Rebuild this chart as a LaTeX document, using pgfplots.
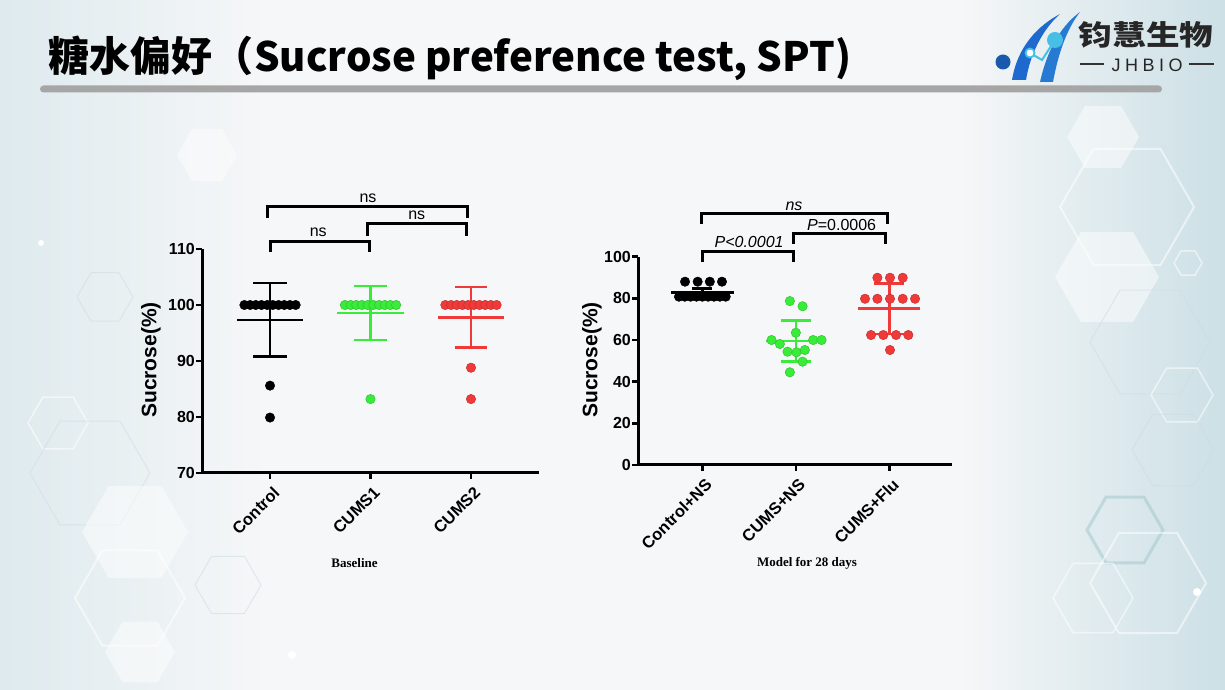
\documentclass[border=0pt]{standalone}
\usepackage{pgfplots}
\pgfplotsset{compat=1.18}
\usepackage{fontspec}
\setmainfont{Liberation Sans}
\newfontfamily\arialf{Liberation Sans}
\newfontfamily\arialls{Liberation Sans}[LetterSpace=25]
\newfontfamily\timesf{Liberation Serif}
\newfontfamily\cjk{Noto Sans CJK SC}
\definecolor{cgreen}{RGB}{58,236,58}
\definecolor{cred}{RGB}{240,58,58}
\definecolor{bgL}{RGB}{222,234,238}
\definecolor{bgM}{RGB}{246,247,248}
\definecolor{bgR}{RGB}{204,224,230}
\definecolor{hexw}{RGB}{252,253,253}
\definecolor{hexg}{RGB}{205,220,225}
\definecolor{logob}{RGB}{30,105,205}
\definecolor{logoc}{RGB}{70,190,230}
\pgfdeclarehorizontalshading{bgshade}{100bp}{color(0bp)=(bgL); color(25bp)=(bgL); color(36bp)=(bgM); color(64bp)=(bgM); color(75bp)=(bgR); color(100bp)=(bgR)}
\newcommand\hexa[4]{\draw[#4] (#1,#2) ++(0:#3) -- ++(120:#3) -- ++(180:#3) -- ++(240:#3) -- ++(300:#3) -- ++(0:#3) -- cycle;}
\newcommand\tfont{\arialf\bfseries\fontsize{16}{16}\selectfont}
\newcommand\xfont{\arialf\bfseries\fontsize{16.5}{16.5}\selectfont}
\pgfplotsset{
  sptaxis/.style={
    scale only axis, clip=false,
    axis x line=bottom, axis y line=left,
    axis line style={-, line width=3pt, black},
    tick style={line width=2.5pt, black},
    major tick length=6pt, tick align=outside,
    /pgf/number format/assume math mode=true,
    yticklabel style={font=\tfont, inner sep=1pt},
    xticklabel style={font=\xfont, rotate=45, anchor=north east, inner sep=0pt, yshift=-6pt, xshift=-3pt},
    xtick={0,1,2},
  },
  dots/.style={only marks, mark=*, mark size=4.7pt, mark options={fill=#1, draw=#1!82!black, line width=0.5pt}},
  bar/.style={#1, line width=2.6pt},
  brk/.style={black, line width=3pt},
}
\begin{document}
\begin{tikzpicture}[x=1pt,y=1pt]
\useasboundingbox (0,0) rectangle (1225,690);
\shade[shading=bgshade] (0,0) rectangle (1225,690);
\begin{scope}[shift={(0,690)}, yscale=-1]
% background hexagons
\begin{scope}[opacity=0.55]
\hexa{1103}{137}{36}{draw=none, fill=hexw}
\hexa{1127}{207}{67}{draw=white, line width=2pt}
\hexa{1107}{277}{52}{draw=none, fill=hexw}
\hexa{1150}{342}{60}{draw=hexg, line width=1pt}
\hexa{1188}{263}{14}{draw=white, line width=1.5pt}
\hexa{1182}{395}{31}{draw=white, line width=1.5pt}
\hexa{1173}{450}{41}{draw=hexg, line width=1pt}
\hexa{1125}{530}{38}{draw=hexg!80!teal, line width=3pt}
\hexa{1148}{583}{58}{draw=white, line width=2pt}
\hexa{1093}{598}{40}{draw=white, line width=1.5pt}
\hexa{207}{155}{30}{draw=none, fill=hexw}
\hexa{105}{297}{28}{draw=hexg, line width=1pt}
\hexa{58}{423}{30}{draw=white, line width=1.5pt}
\hexa{90}{473}{60}{draw=hexg, line width=1pt}
\hexa{135}{532}{53}{draw=none, fill=hexw}
\hexa{130}{598}{55}{draw=white, line width=2pt}
\hexa{228}{585}{33}{draw=hexg, line width=1pt}
\hexa{140}{652}{35}{draw=none, fill=hexw}
\end{scope}
\fill[white] (1197,592) circle (4);
\fill[white] (292,655) circle (4);
\fill[white] (41,243) circle (3);
% title
\node[anchor=base west, inner sep=0] at (48,72) {\cjk\bfseries\fontsize{41}{41}\selectfont 糖水偏好（};
\node[anchor=base west, inner sep=0] at (254,72) {\resizebox{597pt}{34pt}{\cjk\bfseries Sucrose preference test, SPT)}};
\fill[black!35, rounded corners=3.5pt] (40,85.5) rectangle (1162,92.5);
% logo
\fill[logob] (1060,14) .. controls (1030,30) and (1016,55) .. (1012,80) -- (1026,80) .. controls (1030,55) and (1042,30) .. (1060,14) -- cycle;
\fill[logob!80!logoc] (1080,12) .. controls (1058,28) and (1046,55) .. (1040,82) -- (1053,82) .. controls (1058,55) and (1066,30) .. (1080,12) -- cycle;
\fill[logob!85!black] (1003,62) circle (7.5);
\draw[logoc, line width=2pt] (1030,53) -- (1042,60) -- (1055,40);
\draw[logoc, line width=1.8pt, fill=white] (1030,53) circle (4.5);
\fill[logoc] (1055,40) circle (8);
\node[inner sep=0] at (1146,35) {\scalebox{1.2}[1]{\cjk\bfseries\fontsize{28}{28}\selectfont\color{black!85}钧慧生物}};
\node[inner sep=0] at (1147,65) {\arialls\fontsize{18}{18}\selectfont\color{black!85}JHBIO};
\draw[black!80, line width=1.5pt] (1080,64) -- (1104,64) (1189,64) -- (1214,64);
% axis labels and captions
\node[rotate=90, inner sep=0] at (151,360) {\arialf\bfseries\fontsize{21}{21}\selectfont Sucrose(\%)};
\node[rotate=90, inner sep=0] at (592,360) {\arialf\bfseries\fontsize{21}{21}\selectfont Sucrose(\%)};
\node[inner sep=0] at (354.5,563) {\timesf\bfseries\fontsize{13}{13}\selectfont Baseline};
\node[inner sep=0] at (807,563) {\timesf\bfseries\fontsize{13}{13}\selectfont Model for 28 days};
\end{scope}

% ---------------- left axis: Baseline ----------------
\begin{axis}[sptaxis,
  at={(202pt,217pt)}, anchor=south west,
  width=337pt, height=224pt,
  xmin=-0.677, xmax=2.677, ymin=70, ymax=110,
  ytick={70,80,90,100,110},
  xticklabels={Control,CUMS1,CUMS2},
]
\addplot[dots=black] coordinates {(-0.255,100)(-0.198,100)(-0.142,100)(-0.085,100)(-0.028,100)(0.028,100)(0.085,100)(0.142,100)(0.198,100)(0.255,100)(0,85.6)(0,79.9)};
\addplot[dots=cgreen] coordinates {(0.745,100)(0.802,100)(0.858,100)(0.915,100)(0.972,100)(1.028,100)(1.085,100)(1.142,100)(1.198,100)(1.255,100)(1,83.2)};
\addplot[dots=cred] coordinates {(1.745,100)(1.802,100)(1.858,100)(1.915,100)(1.972,100)(2.028,100)(2.085,100)(2.142,100)(2.198,100)(2.255,100)(2,88.8)(2,83.2)};
% mean and SD
\addplot[bar=black] coordinates {(-0.33,97.3)(0.33,97.3)};
\addplot[bar=black] coordinates {(0,90.8)(0,103.9)};
\addplot[bar=black] coordinates {(-0.166,103.9)(0.166,103.9)};
\addplot[bar=black] coordinates {(-0.166,90.8)(0.166,90.8)};
\addplot[bar=cgreen] coordinates {(0.67,98.6)(1.33,98.6)};
\addplot[bar=cgreen] coordinates {(1,93.75)(1,103.4)};
\addplot[bar=cgreen] coordinates {(0.84,103.4)(1.16,103.4)};
\addplot[bar=cgreen] coordinates {(0.84,93.75)(1.16,93.75)};
\addplot[bar=cred] coordinates {(1.67,97.8)(2.33,97.8)};
\addplot[bar=cred] coordinates {(2,92.4)(2,103.2)};
\addplot[bar=cred] coordinates {(1.84,103.2)(2.16,103.2)};
\addplot[bar=cred] coordinates {(1.84,92.4)(2.16,92.4)};
% significance brackets
\addplot[brk] coordinates {(0,109.4)(0,111.25)(0.99,111.25)(0.99,109.4)};
\addplot[brk] coordinates {(0.97,112.3)(0.97,114.5)(1.96,114.5)(1.96,112.3)};
\addplot[brk] coordinates {(-0.03,115.5)(-0.03,117.6)(1.97,117.6)(1.97,115.5)};
\node[inner sep=0, font=\arialf\fontsize{16}{16}\selectfont] at (axis cs:0.48,112.9) {ns};
\node[inner sep=0, font=\arialf\fontsize{16}{16}\selectfont] at (axis cs:1.46,116.1) {ns};
\node[inner sep=0, font=\arialf\fontsize{16}{16}\selectfont] at (axis cs:0.975,119.1) {ns};
\end{axis}

% ---------------- right axis: Model for 28 days ----------------
\begin{axis}[sptaxis,
  at={(638pt,225pt)}, anchor=south west,
  width=313.7pt, height=208.3pt,
  xmin=-0.688, xmax=2.667, ymin=0, ymax=100,
  ytick={0,20,40,60,80,100},
  xticklabels={Control+NS,CUMS+NS,CUMS+Flu},
]
\addplot[dots=black] coordinates {(-0.25,80.8)(-0.1875,80.8)(-0.125,80.8)(-0.0625,80.8)(0,80.8)(0.0625,80.8)(0.125,80.8)(0.1875,80.8)(0.25,80.8)(-0.185,88.0)(-0.05,88.0)(0.08,88.0)(0.21,88.0)};
\addplot[dots=cgreen] coordinates {(0.936,78.7)(1.072,76.2)(1,63.5)(0.74,60.0)(0.829,58.1)(1.185,60.0)(1.275,60.0)(0.911,54.4)(1.007,54.1)(1.096,55.2)(1.072,49.6)(0.936,44.5)};
\addplot[dots=cred] coordinates {(1.872,89.9)(2.007,89.9)(2.143,89.9)(1.74,79.8)(1.872,79.8)(2.007,79.8)(2.143,79.8)(2.275,79.8)(1.804,62.4)(1.936,62.4)(2.072,62.4)(2.203,62.4)(2.007,55.2)};
% mean and SD
\addplot[bar=black] coordinates {(-0.34,82.9)(0.34,82.9)};
\addplot[bar=black] coordinates {(0,81.0)(0,84.8)};
\addplot[bar=black] coordinates {(-0.107,84.8)(0.107,84.8)};
\addplot[bar=black] coordinates {(-0.107,81.0)(0.107,81.0)};
\addplot[bar=cgreen] coordinates {(0.68,59.5)(1.32,59.5)};
\addplot[bar=cgreen] coordinates {(1,49.6)(1,69.3)};
\addplot[bar=cgreen] coordinates {(0.84,69.3)(1.16,69.3)};
\addplot[bar=cgreen] coordinates {(0.84,49.6)(1.16,49.6)};
\addplot[bar=cred] coordinates {(1.67,75.0)(2.33,75.0)};
\addplot[bar=cred] coordinates {(2,62.8)(2,87.2)};
\addplot[bar=cred] coordinates {(1.84,87.2)(2.16,87.2)};
\addplot[bar=cred] coordinates {(1.84,62.8)(2.16,62.8)};
% significance brackets
\addplot[brk] coordinates {(0,97.6)(0,102.6)(0.98,102.6)(0.98,97.6)};
\addplot[brk] coordinates {(0.98,106.1)(0.98,110.9)(1.96,110.9)(1.96,106.1)};
\addplot[brk] coordinates {(-0.01,115.7)(-0.01,120.5)(1.98,120.5)(1.98,115.7)};
\node[inner sep=0, font=\arialf\fontsize{16}{16}\selectfont] at (axis cs:0.5,107.1) {\itshape P<0.0001};
\node[inner sep=0, font=\arialf\fontsize{16}{16}\selectfont] at (axis cs:1.49,115.2) {{\itshape P}=0.0006};
\node[inner sep=0, font=\arialf\fontsize{16}{16}\selectfont] at (axis cs:0.98,124.0) {\itshape ns};
\end{axis}
\end{tikzpicture}
\end{document}
